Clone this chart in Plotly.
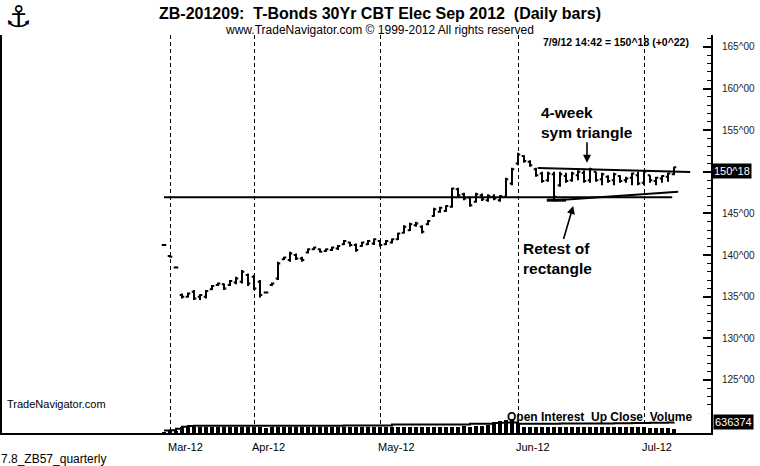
import plotly.graph_objects as go

# ---------------- data ----------------
bar_idx = list(range(86))
high = [141.3,140.0,138.6,135.4,135.5,135.8,135.3,135.8,136.4,136.7,136.6,137.0,137.4,138.2,137.8,
        137.6,137.0,135.6,136.7,139.2,139.8,140.4,140.2,139.8,140.8,141.0,140.8,140.8,141.0,141.2,
        141.8,141.6,141.4,141.6,141.8,142.0,141.8,141.8,142.0,142.7,143.6,143.9,144.0,143.6,144.2,
        145.7,145.8,146.0,148.1,148.1,147.5,147.0,147.5,147.4,147.3,147.3,147.2,149.3,150.5,152.3,
        152.0,151.4,150.5,150.0,150.0,150.0,150.0,149.9,150.0,150.2,150.2,150.5,150.0,149.9,149.6,
        149.9,149.6,149.4,149.9,150.0,150.2,149.6,149.4,149.6,149.9,150.6]
low = [141.1,139.7,138.4,134.8,134.9,134.6,134.6,134.8,135.8,136.3,135.8,136.3,136.5,136.6,136.3,
       135.8,134.9,135.4,136.3,137.0,139.4,139.2,139.4,139.2,140.2,140.6,140.3,140.4,140.5,140.6,
       141.2,141.0,140.4,141.0,141.2,141.2,141.0,141.2,141.4,141.8,142.6,142.9,143.4,142.6,143.6,
       144.6,145.1,145.2,145.7,147.0,146.6,145.8,146.3,146.5,146.4,146.6,146.4,146.9,148.4,150.8,
       151.1,150.6,149.4,148.7,148.8,146.6,148.2,148.7,148.8,149.0,148.7,148.7,148.8,148.4,148.7,
       148.4,148.7,148.7,148.4,148.4,148.4,148.7,148.4,148.7,148.8,149.6]
open_ = [141.2,139.9,138.5,135.2,135.0,135.6,135.0,135.0,135.9,136.4,136.5,136.4,136.7,136.8,137.6,
         137.4,136.8,135.5,136.4,137.2,139.5,139.4,140.0,139.6,140.3,140.7,140.7,140.5,140.6,140.8,
         141.3,141.5,141.2,141.1,141.3,141.4,141.7,141.3,141.5,141.9,142.7,143.0,143.6,143.4,143.7,
         144.7,145.2,145.3,145.8,147.9,147.3,146.9,146.4,147.2,146.6,147.0,146.6,147.0,148.6,151.0,
         151.9,151.2,150.3,149.8,149.0,149.7,148.4,149.5,149.0,149.6,149.9,149.0,150.0,149.1,149.4,
         149.0,149.5,149.0,149.3,149.6,148.7,149.6,148.9,149.2,149.4,149.7]
close = [141.2,139.8,138.5,135.0,135.4,134.8,135.2,135.7,136.3,136.6,136.0,136.9,137.2,138.0,136.6,
         136.0,135.2,135.5,136.6,139.0,139.7,140.2,139.6,139.4,140.7,140.9,140.4,140.7,140.9,141.1,
         141.7,141.2,140.6,141.5,141.7,141.9,141.2,141.7,141.9,142.6,143.4,143.7,143.8,142.8,144.1,
         145.5,145.7,145.9,148.0,147.2,146.8,146.0,147.3,146.7,147.1,146.8,147.1,149.1,150.3,152.1,
         151.3,150.8,149.6,148.9,149.8,147.0,149.7,148.9,149.8,150.0,148.9,150.3,149.0,149.7,148.9,
         149.7,148.9,149.2,149.8,148.6,150.0,149.0,149.3,149.5,149.8,150.56]
volume = [20000,60000,100000,330000,350000,340000,360000,350000,360000,340000,350000,360000,350000,360000,350000,
          340000,360000,300000,350000,360000,350000,340000,360000,350000,340000,360000,350000,340000,360000,350000,
          360000,340000,350000,360000,350000,340000,360000,350000,340000,360000,350000,360000,340000,350000,360000,
          350000,360000,340000,380000,360000,400000,380000,420000,400000,450000,650000,700000,760000,820000,600000,
          360000,350000,340000,360000,350000,340000,360000,350000,340000,360000,350000,340000,360000,350000,340000,
          360000,350000,340000,360000,350000,330000,300000,290000,300000,280000,230275]
open_interest = [150000,170000,260000,380000,420000,430000,430000,430000,430000,430000,430000,430000,430000,430000,430000,
                 440000,440000,440000,440000,440000,440000,440000,440000,440000,440000,440000,440000,440000,440000,440000,
                 450000,450000,450000,450000,450000,450000,450000,450000,520000,520000,520000,520000,520000,520000,520000,
                 520000,520000,520000,520000,520000,520000,560000,560000,560000,560000,600000,620000,630000,640000,560000,
                 560000,560000,560000,560000,560000,560000,570000,570000,570000,570000,570000,580000,580000,580000,580000,
                 590000,590000,590000,600000,600000,610000,615000,620000,625000,630000,636374]

month_labels = ["Mar-12", "Apr-12", "May-12", "Jun-12", "Jul-12"]
month_start_idx = [1, 15, 36, 59, 80]

price_tick_vals = [125, 130, 135, 140, 145, 150, 155, 160, 165]
# the 150^00 label is hidden behind the last-price box in the reference
price_tick_text = ["125^00", "130^00", "135^00", "140^00", "145^00", "", "155^00", "160^00", "165^00"]

# analyst lines (index, price)
rect_line_x = [0, 84.7]
rect_line_y = [146.95, 146.95]
tri_upper_x = [62.3, 87.7]
tri_upper_y = [150.45, 149.97]
tri_lower_x = [64.8, 85.7]
tri_lower_y = [146.55, 147.6]
retest_x = [63.8, 67.0]
retest_y = [146.6, 146.6]

# annotation anchor points (index, price)
tri_arrow_pt = (70.5, 151.1)
retest_arrow_pt = (68.2, 145.9)

last_price_text = "150^18"
last_oi_text = "636374"

# ---------------- layout helpers ----------------
W, H = 760, 466
ML, MR, MT, MB = 0, 49, 35, 33
PW, PH = W - ML - MR, H - MT - MB
PX_PER_BAR = 6.0
FIRST_BAR_PX = 164
X0 = -(FIRST_BAR_PX - ML) / PX_PER_BAR
X1 = X0 + PW / PX_PER_BAR
FONT = "Liberation Sans, Arial, sans-serif"


def px(x):
    return (x - ML) / PW


def py(y):
    return (H - MB - y) / PH


fig = go.Figure()

fig.add_trace(go.Ohlc(
    x=bar_idx, open=open_, high=high, low=low, close=close,
    increasing=dict(line=dict(color="black", width=2)),
    decreasing=dict(line=dict(color="black", width=2)),
    tickwidth=0.38, hoverinfo="skip", xaxis="x", yaxis="y"))

for xs, ys, w in [(rect_line_x, rect_line_y, 2), (tri_upper_x, tri_upper_y, 2),
                  (tri_lower_x, tri_lower_y, 2), (retest_x, retest_y, 3)]:
    fig.add_trace(go.Scatter(x=xs, y=ys, mode="lines",
                             line=dict(color="black", width=w), hoverinfo="skip",
                             xaxis="x", yaxis="y"))

fig.add_trace(go.Bar(x=bar_idx, y=volume, marker=dict(color="black", line=dict(width=0)),
                     width=0.62, xaxis="x", yaxis="y2", hoverinfo="skip"))
fig.add_trace(go.Scatter(x=bar_idx, y=open_interest, mode="lines",
                         line=dict(color="black", width=2, shape="hv"),
                         xaxis="x", yaxis="y2", hoverinfo="skip"))

annotations = []
# month labels
for lab, i in zip(month_labels, month_start_idx):
    annotations.append(dict(text=lab, x=i, xref="x", y=py(447), yref="paper",
                            xanchor="left", yanchor="middle", xshift=-4, showarrow=False,
                            font=dict(family=FONT, size=11, color="black")))

annotations += [
    dict(text="www.TradeNavigator.com © 1999-2012 All rights reserved",
         x=px(379), y=py(30), xref="paper", yref="paper", xanchor="center", yanchor="middle",
         showarrow=False, font=dict(family=FONT, size=12, color="black")),
    dict(text="<b>7/9/12 14:42 = 150^18 (+0^22)</b>",
         x=px(691), y=py(42), xref="paper", yref="paper", xanchor="right", yanchor="middle",
         showarrow=False, font=dict(family=FONT, size=10.5, color="black")),
    dict(text="<b>4-week<br>sym triangle</b>", x=tri_arrow_pt[0], y=tri_arrow_pt[1],
         xref="x", yref="y", ax=0, ay=-40.5, align="left", showarrow=True,
         arrowhead=2, arrowsize=1, arrowwidth=1.6, arrowcolor="black",
         font=dict(family=FONT, size=15.5, color="black")),
    dict(text="<b>Retest of<br>rectangle</b>", x=retest_arrow_pt[0], y=retest_arrow_pt[1],
         xref="x", yref="y", ax=-15.5, ay=53, align="left", showarrow=True,
         arrowhead=2, arrowsize=1, arrowwidth=1.6, arrowcolor="black",
         font=dict(family=FONT, size=15.5, color="black")),
    dict(text="<b>Open Interest  Up Close  Volume</b>",
         x=px(505), y=py(417), xref="paper", yref="paper", xanchor="left", yanchor="middle",
         showarrow=False, font=dict(family=FONT, size=12, color="black")),
    dict(text=last_price_text, x=1, xref="paper", y=close[-1], yref="y",
         xanchor="left", yanchor="middle", xshift=1, yshift=-4, showarrow=False, bgcolor="black",
         borderpad=1, font=dict(family=FONT, size=11, color="white")),
    dict(text=last_oi_text, x=1, xref="paper", y=open_interest[-1], yref="y2",
         xanchor="left", yanchor="middle", xshift=2, showarrow=False, bgcolor="black",
         borderpad=1, font=dict(family=FONT, size=11, color="white")),
    dict(text="TradeNavigator.com", x=px(5), y=py(404), xref="paper", yref="paper",
         xanchor="left", yanchor="middle", showarrow=False,
         font=dict(family=FONT, size=11, color="black")),
    dict(text="7.8_ZB57_quarterly", x=px(0), y=py(459), xref="paper", yref="paper",
         xanchor="left", yanchor="middle", xshift=-1, showarrow=False,
         font=dict(family=FONT, size=12, color="black")),
    dict(text="⚓", x=px(18), y=py(17), xref="paper", yref="paper",
         xanchor="center", yanchor="middle", showarrow=False,
         font=dict(family="DejaVu Sans", size=30, color="black")),
]

fig.update_layout(
    width=W, height=H,
    margin=dict(l=ML, r=MR, t=MT, b=MB, pad=0),
    paper_bgcolor="white", plot_bgcolor="white",
    showlegend=False,
    title=dict(text="<b>ZB-201209:  T-Bonds 30Yr CBT Elec Sep 2012  (Daily bars)</b>",
               x=0.5, xref="container", xanchor="center",
               y=1 - 13 / H, yref="container", yanchor="middle",
               font=dict(family=FONT, size=16, color="black")),
    xaxis=dict(type="linear", range=[X0, X1], tickvals=month_start_idx,
               showticklabels=False, ticks="", showgrid=True, gridcolor="black",
               gridwidth=1, griddash="4px,3px", zeroline=False,
               showline=True, linecolor="black", linewidth=2,
               rangeslider=dict(visible=False), fixedrange=True),
    yaxis=dict(side="right", range=[118.63, 166.44], tickvals=price_tick_vals,
               ticktext=price_tick_text, ticks="inside", ticklen=8, tickwidth=2,
               tickcolor="black", showgrid=False, zeroline=False,
               showline=True, linecolor="black", linewidth=2,
               ticklabelstandoff=7,
               tickfont=dict(family=FONT, size=10, color="#222"),
               minor=dict(dtick=1, ticks="inside", ticklen=4, tickwidth=1, tickcolor="black"),
               fixedrange=True),
    yaxis2=dict(domain=[0, 0.05], range=[0, 1.2e6], visible=False, anchor="x",
                fixedrange=True),
    annotations=annotations,
    shapes=[dict(type="line", xref="paper", yref="paper", x0=px(1), x1=px(1), y0=0, y1=1,
                 line=dict(color="black", width=2))],
    bargap=0,
)

fig.write_html("out.html")
